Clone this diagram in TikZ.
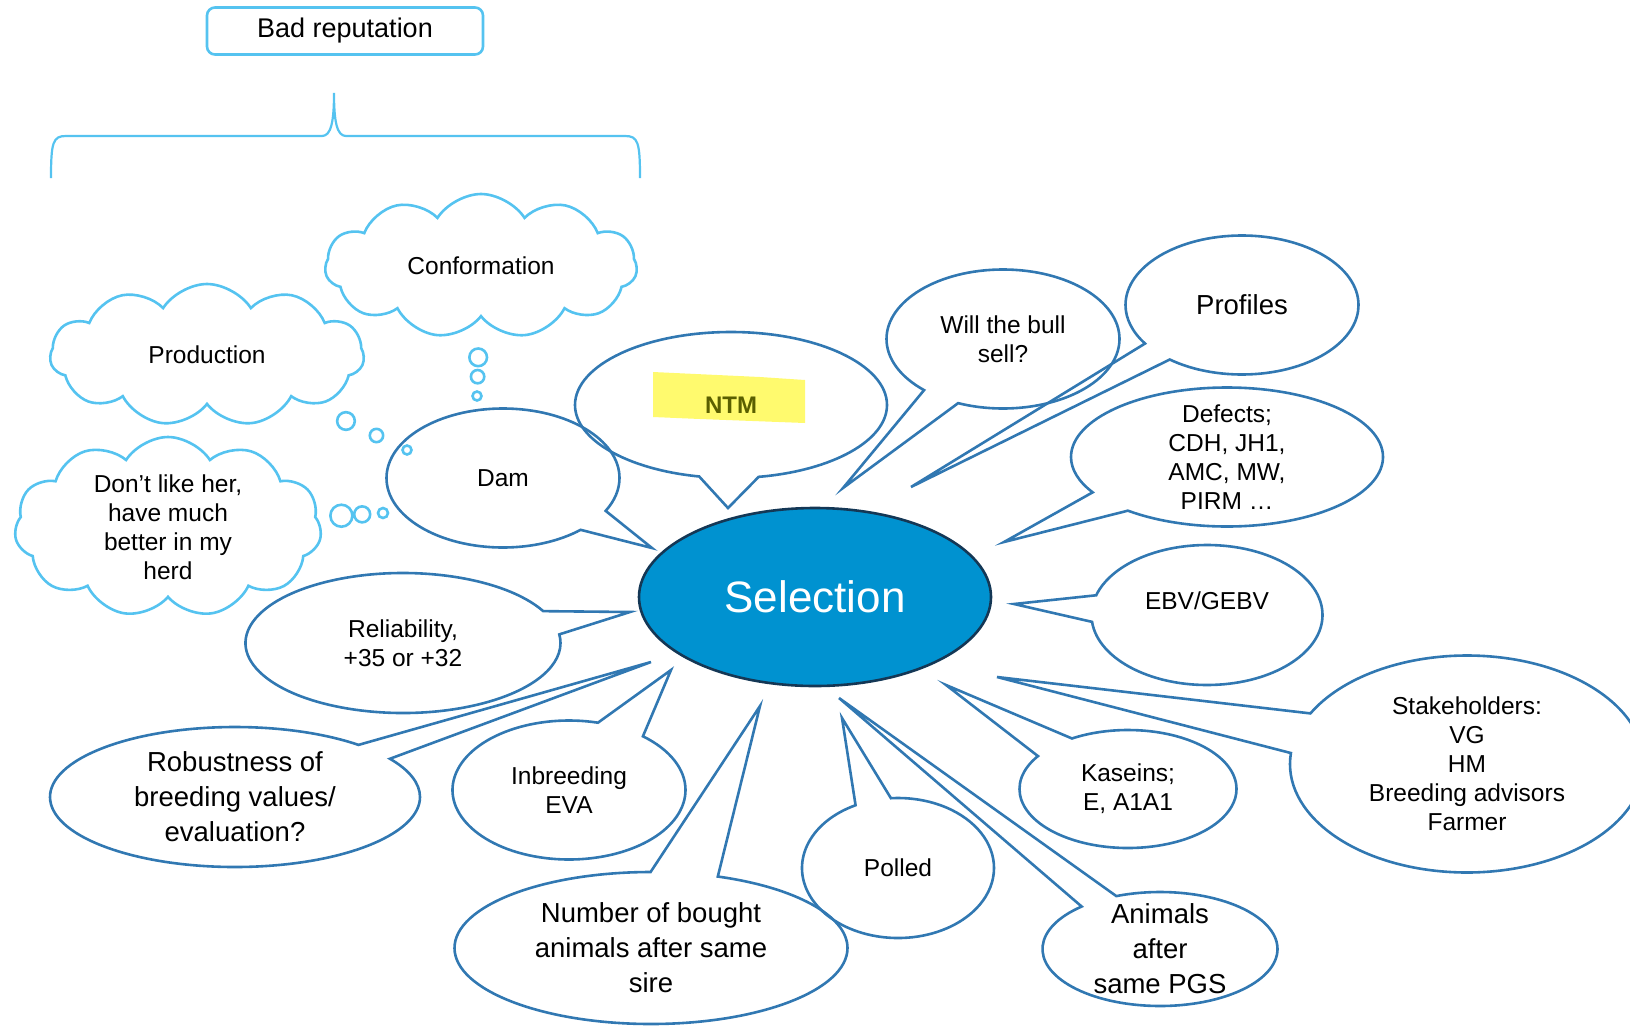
\documentclass[tikz,border=0pt]{standalone}
\usepackage{fontspec}
\setmainfont{Liberation Sans}
\usepackage{xcolor}
\usetikzlibrary{shapes.geometric, shapes.symbols, shapes.callouts}
\definecolor{bubbleblue}{RGB}{49,120,178}
\definecolor{cloudblue}{RGB}{85,195,240}
\definecolor{selfill}{RGB}{0,146,208}
\definecolor{seldraw}{RGB}{20,55,85}
\definecolor{marker}{RGB}{255,250,110}
\definecolor{ntmtext}{RGB}{90,95,0}

\begin{document}
\begin{tikzpicture}
        [
        x=1pt, y=-1pt,
        every node/.style = {font=\fontsize{24.5}{29}\selectfont},
        big/.style = {font=\fontsize{27.5}{35}\selectfont},
        bubble/.style = {ellipse callout, draw=bubbleblue, line width=2.6pt, align=center,
            inner sep=0pt, callout pointer arc=20},
        thought/.style = {cloud callout, draw=cloudblue, line width=2.6pt, align=center,
            inner sep=0pt, cloud puffs=11, cloud puff arc=115, cloud ignores aspect,
            callout pointer segments=3}
        ]
    \useasboundingbox (0,0) rectangle (1630,1026);

    \node[draw=cloudblue, line width=2.6pt, rounded corners=8pt, minimum width=276pt,
        minimum height=47pt, font=\fontsize{27}{32}\selectfont] (bad) at (345,31) {Bad reputation};
    \draw[cloudblue, line width=2.2pt] (51,178) .. controls (51,142) and (53,136) .. (66,136)
        -- (322,136) .. controls (331,136) and (334,122) .. (334,93)
        .. controls (334,122) and (337,136) .. (346,136)
        -- (625,136) .. controls (638,136) and (640,142) .. (640,178);

    \coordinate (p-conf) at (477,396);
    \coordinate (p-prod) at (407,450);
    \coordinate (p-like) at (383,513);
    \node[thought, minimum width=312pt, minimum height=144pt, callout absolute pointer=(p-conf),
        callout pointer start size=22pt and 22pt, callout pointer end size=9pt and 9pt]
        (conf) at (481,266) {Conformation};
    \node[thought, minimum width=314pt, minimum height=142pt, callout absolute pointer=(p-prod),
        callout pointer start size=22pt and 22pt, callout pointer end size=9pt and 9pt]
        (prod) at (207,355) {Production};
    \node[thought, minimum width=307pt, minimum height=180pt, inner ysep=-10pt,
        callout absolute pointer=(p-like),
        callout pointer start size=28pt and 28pt, callout pointer end size=10pt and 10pt]
        (like) at (168,527) {Don't like her,\\have much\\better in my\\herd};

    \node[ellipse, draw=seldraw, fill=selfill, line width=2.6pt, minimum width=352pt,
        minimum height=178pt, text=white, font=\fontsize{44}{50}\selectfont] (sel) at (815,597) {Selection};

    \coordinate (p-ntm) at (728,508);
    \coordinate (p-dam) at (652,548);
    \coordinate (p-bull) at (843,488);
    \coordinate (p-prof) at (911,487);
    \coordinate (p-def) at (1004,542);
    \coordinate (p-ebv) at (1014,604);
    \coordinate (p-stake) at (997,677);
    \coordinate (p-kas) at (946,685);
    \coordinate (p-anim) at (839,698);
    \coordinate (p-poll) at (842,718);
    \coordinate (p-num) at (760,706);
    \coordinate (p-inbr) at (671,670);
    \coordinate (p-rob) at (651,662);
    \coordinate (p-rel) at (630,612);

    \fill[marker] (653,372) -- (760,377) -- (805,380) -- (805,423) -- (700,419) -- (653,417) -- cycle;
    \node[bubble, minimum width=312pt, minimum height=146pt, callout absolute pointer=(p-ntm),
        callout pointer arc=22, text=ntmtext, font=\fontsize{24}{29}\bfseries]
        (ntm) at (731,405) {NTM};
    \node[bubble, minimum width=233pt, minimum height=139pt, callout absolute pointer=(p-dam)]
        (dam) at (503,478) {Dam};
    \node[bubble, minimum width=233pt, minimum height=139pt, callout absolute pointer=(p-bull)]
        (bull) at (1003,339) {Will the bull\\sell?};
    \node[bubble, big, minimum width=233pt, minimum height=139pt, callout absolute pointer=(p-prof),
        callout pointer arc=18] (prof) at (1242,305) {Profiles};
    \node[bubble, minimum width=312pt, minimum height=139pt, inner ysep=-12pt,
        callout absolute pointer=(p-def)] (def) at (1227,457) {Defects;\\CDH, JH1,\\AMC, MW,\\PIRM \dots};
    \node[bubble, minimum width=231pt, minimum height=140pt, callout absolute pointer=(p-ebv),
        callout pointer arc=22] (ebv) at (1207,615) {EBV/GEBV\\\mbox{}};
    \node[bubble, minimum width=354pt, minimum height=217pt, callout absolute pointer=(p-stake),
        callout pointer arc=22] (stake) at (1467,764) {Stakeholders:\\VG\\HM\\Breeding advisors\\Farmer};
    \node[bubble, minimum width=217pt, minimum height=118pt, callout absolute pointer=(p-kas),
        callout pointer arc=25] (kas) at (1128,789) {Kaseins;\\E, A1A1};
    \node[bubble, big, minimum width=235pt, minimum height=114pt, inner ysep=-16pt,
        callout absolute pointer=(p-anim)] (anim) at (1160,949) {Animals\\after\\same PGS};
    \node[bubble, minimum width=192pt, minimum height=140pt, callout absolute pointer=(p-poll),
        callout pointer arc=22] (poll) at (898,868) {Polled};
    \node[bubble, big, minimum width=393pt, minimum height=152pt, callout absolute pointer=(p-num)]
        (num) at (651,948) {Number of bought\\animals after same\\sire};
    \node[bubble, minimum width=233pt, minimum height=139pt, callout absolute pointer=(p-inbr),
        callout pointer arc=25] (inbr) at (569,790) {Inbreeding\\EVA};
    \node[bubble, big, minimum width=370pt, minimum height=140pt, inner ysep=-4pt,
        callout absolute pointer=(p-rob), callout pointer arc=15] (rob) at (235,797)
        {Robustness of\\breeding values/\\evaluation?};
    \node[bubble, minimum width=315pt, minimum height=140pt, callout absolute pointer=(p-rel)]
        (rel) at (403,643) {Reliability,\\+35 or +32};
\end{tikzpicture}
\end{document}
